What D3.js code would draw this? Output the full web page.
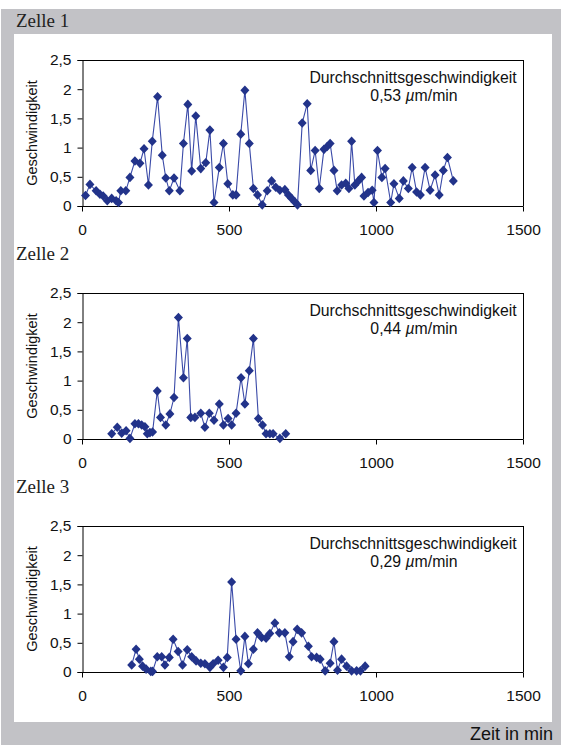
<!DOCTYPE html>
<html>
<head>
<meta charset="utf-8">
<script src="https://cdn.jsdelivr.net/npm/d3@7"></script>
<style>
  html, body { margin: 0; padding: 0; background: #fff; }
  svg { display: block; }
</style>
</head>
<body>
<svg id="chart" width="561" height="745"></svg>
<script>
// Zeitpunkte (min) und Geschwindigkeiten (µm/min) je Zelle
const zelle1Zeit = [12,27,48,61,72,86,101,116,124,132,149,163,180,197,211,226,239,257,273,285,297,313,333,345,360,373,387,404,421,435,449,467,481,496,513,524,540,554,569,583,597,613,630,645,659,673,690,702,713,724,733,749,766,778,793,807,823,834,844,857,868,883,897,908,917,928,940,951,959,973,987,993,1005,1020,1031,1050,1061,1079,1093,1110,1123,1138,1151,1167,1184,1201,1215,1229,1243,1263];
const zelle1Wert = [0.18,0.37,0.26,0.2,0.17,0.09,0.13,0.09,0.06,0.26,0.26,0.49,0.77,0.73,0.98,0.36,1.11,1.87,0.87,0.48,0.26,0.48,0.26,1.07,1.74,0.6,1.54,0.64,0.74,1.3,0.06,0.66,1.07,0.38,0.19,0.19,1.23,1.98,1.07,0.3,0.19,0.02,0.26,0.43,0.32,0.27,0.28,0.19,0.13,0.07,0.02,1.42,1.75,0.61,0.95,0.3,0.97,1.02,1.07,0.61,0.26,0.36,0.39,0.3,1.11,0.36,0.43,0.49,0.17,0.23,0.27,0.06,0.95,0.49,0.64,0.06,0.38,0.13,0.43,0.3,0.66,0.24,0.19,0.66,0.27,0.53,0.19,0.61,0.83,0.43];

const zelle2Zeit = [101,120,135,150,163,180,192,203,214,222,231,240,256,267,285,299,313,328,345,358,370,384,404,418,433,449,467,481,497,509,524,541,554,569,583,600,614,626,639,650,673,693];
const zelle2Wert = [0.09,0.2,0.1,0.14,0.01,0.26,0.26,0.24,0.21,0.09,0.11,0.12,0.82,0.37,0.24,0.43,0.71,2.08,1.05,1.72,0.37,0.37,0.44,0.2,0.44,0.32,0.6,0.24,0.35,0.24,0.44,1.05,0.6,1.17,1.72,0.35,0.24,0.09,0.09,0.09,0.01,0.09];

const zelle3Zeit = [169,184,195,206,218,234,240,256,271,282,297,310,327,342,358,373,388,404,418,435,446,463,481,494,509,524,540,554,566,583,597,611,626,639,656,671,690,705,718,732,747,770,781,798,810,827,844,857,869,883,900,917,934,947,963];
const zelle3Wert = [0.12,0.39,0.22,0.1,0.05,0.01,0.01,0.26,0.26,0.12,0.25,0.56,0.35,0.12,0.38,0.26,0.19,0.15,0.14,0.08,0.14,0.2,0.08,0.25,1.54,0.56,0.02,0.61,0.14,0.39,0.67,0.59,0.58,0.66,0.84,0.67,0.67,0.26,0.52,0.73,0.67,0.44,0.26,0.25,0.22,0.02,0.15,0.52,0.03,0.22,0.1,0.02,0.02,0.02,0.1];

const zellenTitel = ["Zelle 1", "Zelle 2", "Zelle 3"];
const mittelwerte = ["0,53", "0,44", "0,29"];
const xTicks = [0, 500, 1000, 1500];
const yTicks = [0, 0.5, 1, 1.5, 2, 2.5];
const xAchsenTitel = "Zeit in min";
const yAchsenTitel = "Geschwindigkeit";
const notizText = "Durchschnittsgeschwindigkeit";

const zellen = [
  { titel: zellenTitel[0], zeit: zelle1Zeit, wert: zelle1Wert, mittel: mittelwerte[0] },
  { titel: zellenTitel[1], zeit: zelle2Zeit, wert: zelle2Wert, mittel: mittelwerte[1] },
  { titel: zellenTitel[2], zeit: zelle3Zeit, wert: zelle3Wert, mittel: mittelwerte[2] }
];

const svg = d3.select("#chart");
const sans = "'Liberation Sans', Arial, sans-serif";
const serif = "'Liberation Serif', 'Times New Roman', serif";

// Hintergrund: grauer Rahmen mit weißer Fläche
svg.append("rect").attr("x", 1).attr("y", 9).attr("width", 560).attr("height", 736).attr("fill", "#c2c2c6");
svg.append("rect").attr("x", 14).attr("y", 34).attr("width", 538).attr("height", 688).attr("fill", "#ffffff");

const plotLeft = 82, plotRight = 523;
const plotTops = [60, 293, 526];
const plotH = 146;

const x = d3.scaleLinear().domain([0, 1500]).range([plotLeft, plotRight]);
const fmt = d => d3.format(".1~f")(d).replace(".", ",");

const raute = "M0,-4.8L4.5,0L0,4.8L-4.5,0Z";

zellen.forEach((z, i) => {
  const top = plotTops[i];
  const y = d3.scaleLinear().domain([0, 2.5]).range([top + plotH, top]);
  const g = svg.append("g");

  // Titel der Zelle
  svg.append("text")
    .attr("x", 16).attr("y", top - 33)
    .attr("font-family", serif).attr("font-size", 19).attr("fill", "#222")
    .text(z.titel);

  // Rahmen der Zeichenfläche (oben und rechts)
  g.append("line").attr("x1", plotLeft).attr("x2", plotRight).attr("y1", top + 0.5).attr("y2", top + 0.5)
    .attr("stroke", "#000").attr("stroke-width", 1);
  g.append("line").attr("x1", plotRight + 0.5).attr("x2", plotRight + 0.5).attr("y1", top).attr("y2", top + plotH)
    .attr("stroke", "#000").attr("stroke-width", 1);

  // y-Achse
  const yAxis = d3.axisLeft(y).tickValues(yTicks).tickFormat(fmt).tickSize(5).tickPadding(6);
  const ya = g.append("g").attr("transform", `translate(${plotLeft + 0.5},0)`).call(yAxis);
  // x-Achse
  const xAxis = d3.axisBottom(x).tickValues(xTicks).tickFormat(d3.format("d")).tickSize(5).tickPadding(12);
  const xa = g.append("g").attr("transform", `translate(0,${top + plotH + 0.5})`).call(xAxis);

  [ya, xa].forEach(a => {
    a.select(".domain").attr("stroke", "#000");
    a.selectAll(".tick line").attr("stroke", "#000");
    a.selectAll("text").attr("font-family", sans).attr("font-size", 15.5).attr("fill", "#111");
  });
  xa.select(".domain").attr("d", `M${plotLeft},0H${plotRight + 0.5}`);

  // y-Achsentitel
  g.append("text")
    .attr("transform", `translate(37,${top + plotH / 2}) rotate(-90)`)
    .attr("text-anchor", "middle")
    .attr("font-family", sans).attr("font-size", 14.5).attr("fill", "#111")
    .text(yAchsenTitel);

  // Durchschnittsgeschwindigkeit
  const note = g.append("text")
    .attr("text-anchor", "middle")
    .attr("font-family", sans).attr("font-size", 15.8).attr("fill", "#111");
  note.append("tspan").attr("x", 413).attr("y", top + 23).text(notizText);
  const l2 = note.append("tspan").attr("x", 414).attr("y", top + 41);
  l2.append("tspan").text(z.mittel + " ");
  l2.append("tspan").attr("font-style", "italic").text("µ");
  l2.append("tspan").text("m/min");

  const pts = z.zeit.map((t, k) => [t, z.wert[k]]);

  // Verbindungslinie
  g.append("path")
    .datum(pts)
    .attr("fill", "none")
    .attr("stroke", "#3a4aa8")
    .attr("stroke-width", 1.1)
    .attr("d", d3.line().x(d => x(d[0])).y(d => y(d[1])));

  // Messpunkte (Rauten)
  g.selectAll("path.punkt")
    .data(pts)
    .join("path")
    .attr("class", "punkt")
    .attr("d", raute)
    .attr("fill", "#22338a")
    .attr("transform", d => `translate(${x(d[0])},${y(d[1])})`);
});

// x-Achsentitel
svg.append("text")
  .attr("x", 553).attr("y", 740)
  .attr("text-anchor", "end")
  .attr("font-family", sans).attr("font-size", 18).attr("fill", "#111")
  .text(xAchsenTitel);
</script>
</body>
</html>
